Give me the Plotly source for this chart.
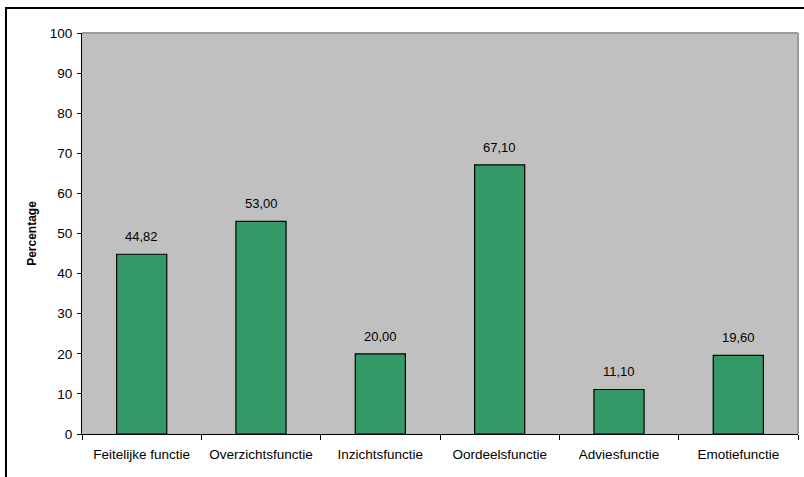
import plotly.graph_objects as go

categories = ["Feitelijke functie", "Overzichtsfunctie", "Inzichtsfunctie",
              "Oordeelsfunctie", "Adviesfunctie", "Emotiefunctie"]
values = [44.82, 53.00, 20.00, 67.10, 11.10, 19.60]
y_ticks = list(range(0, 101, 10))
y_title = "Percentage"

labels = [f"{v:.2f}".replace(".", ",") for v in values]

FONT = "Liberation Sans, Arial, sans-serif"

fig = go.Figure()
fig.add_trace(go.Bar(
    x=categories, y=values, width=0.42,
    marker=dict(color="#339966", line=dict(color="#000000", width=1.2)),
    hoverinfo="skip",
))

annotations = [
    dict(x=c, y=v, text=t, showarrow=False, xref="x", yref="y",
         yanchor="bottom", yshift=8,
         font=dict(family=FONT, size=13, color="#000000"))
    for c, v, t in zip(categories, values, labels)
]

shapes = [
    # outer chart frame
    dict(type="rect", xref="paper", yref="paper",
         x0=(6 - 82) / 716, x1=(810 - 82) / 716,
         y0=(434 - 490) / 401, y1=(434 - 8) / 401,
         line=dict(color="#000000", width=2), fillcolor="rgba(0,0,0,0)", layer="below"),
    # plot area top and right borders
    dict(type="line", xref="paper", yref="paper", x0=0, x1=1, y0=1, y1=1,
         line=dict(color="#9a9a9a", width=2)),
    dict(type="line", xref="paper", yref="paper", x0=1, x1=1, y0=0, y1=1,
         line=dict(color="#9a9a9a", width=2)),
]

fig.update_layout(
    width=804, height=477,
    margin=dict(l=82, r=6, t=33, b=43),
    paper_bgcolor="#ffffff",
    plot_bgcolor="#c0c0c0",
    showlegend=False,
    font=dict(family=FONT, size=13, color="#000000"),
    annotations=annotations,
    shapes=shapes,
    bargap=0.58,
)
fig.update_xaxes(
    type="category", showline=True, linecolor="#000000", linewidth=1,
    ticks="outside", tickson="boundaries", ticklen=5, tickcolor="#000000",
    showgrid=False, tickfont=dict(family=FONT, size=13.5, color="#000000"),
    ticklabelstandoff=8, automargin=False,
    fixedrange=True,
)
fig.update_yaxes(
    range=[0, 100], tickvals=y_ticks, showline=True, linecolor="#000000", linewidth=1,
    ticks="outside", ticklen=4, tickcolor="#000000", showgrid=False, zeroline=False,
    tickfont=dict(family=FONT, size=13.5, color="#000000"),
    ticklabelstandoff=2,
    title=dict(text=f"<b>{y_title}</b>", font=dict(family=FONT, size=12, color="#000000"),
               standoff=10),
    fixedrange=True,
)

fig.write_html("out.html", config={"displayModeBar": False},
               post_script="document.body.style.margin='0';document.body.style.overflow='hidden';")
